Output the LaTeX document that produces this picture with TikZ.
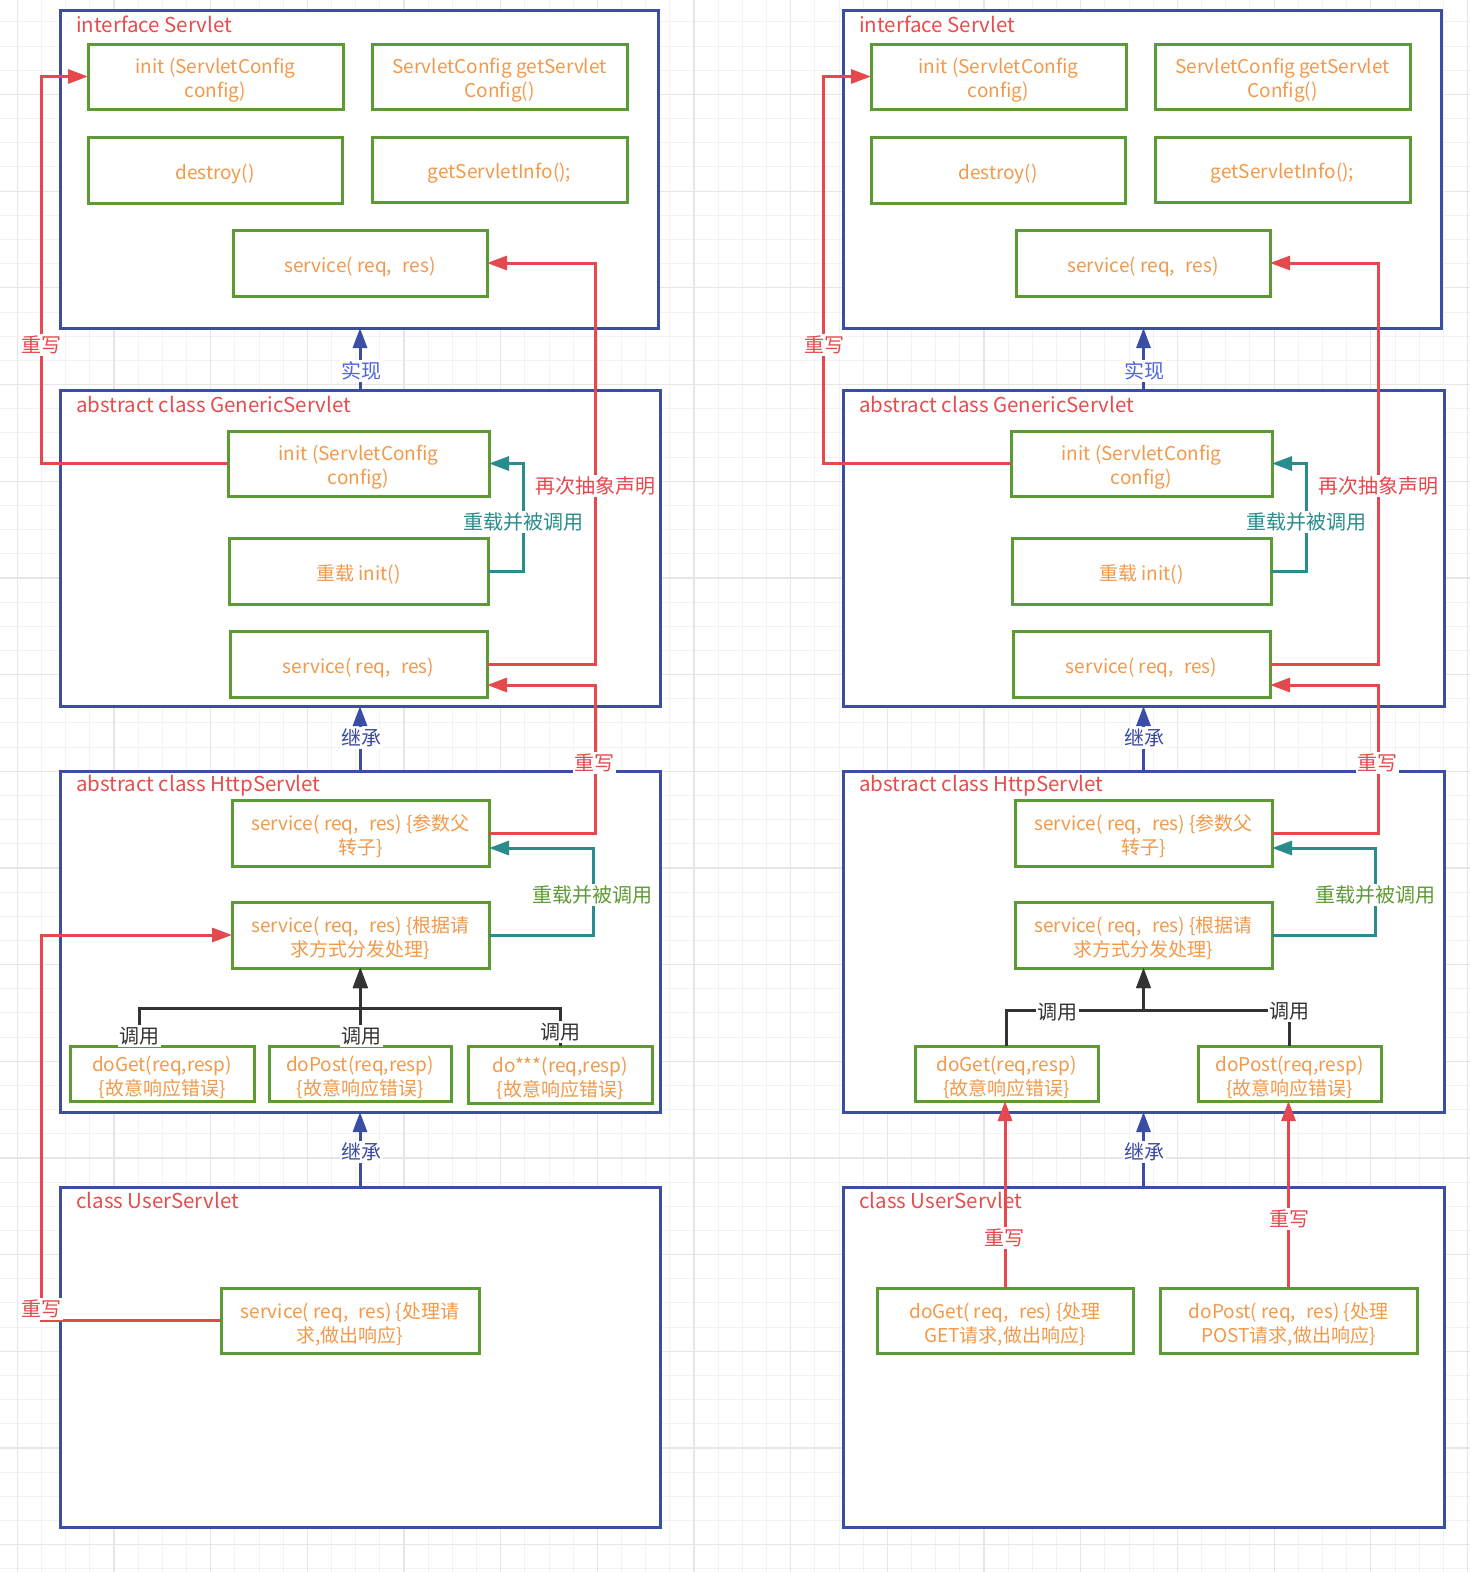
\documentclass[tikz,border=0pt]{standalone}
\usepackage{fontspec}
\setmainfont{Noto Sans CJK SC}
\usetikzlibrary{arrows.meta}
\definecolor{cblue}{HTML}{3A4EA6}
\definecolor{mgreen}{HTML}{5C9A33}
\definecolor{morange}{HTML}{F2994A}
\definecolor{tred}{HTML}{E64D4D}
\definecolor{lred}{HTML}{E5484D}
\definecolor{lteal}{HTML}{2A8C8C}
\definecolor{lgreen}{HTML}{5E9A35}
\definecolor{lblue}{HTML}{3A4AA0}
\definecolor{lblue2}{HTML}{4E62E6}
\definecolor{lblack}{HTML}{333333}
\definecolor{gminorc}{HTML}{F2F2F2}
\definecolor{gmajorc}{HTML}{E6E6E6}
\tikzset{
  cont/.style={draw=cblue, line width=3pt, fill=white, anchor=north west, inner sep=0pt, outer sep=0pt},
  mbox/.style={draw=mgreen, line width=3pt, fill=white, anchor=north west, inner sep=0pt, outer sep=0pt},
  mtext/.style={align=center, text=morange, font=\fontsize{19}{24}\selectfont, inner sep=0pt},
  ttl/.style={anchor=west, text=tred, font=\fontsize{20.5}{24}\selectfont, inner sep=0pt, yshift=-1.5pt},
  lbl/.style={fill=white, inner sep=1.5pt, font=\fontsize{20}{24}\selectfont, yshift=-2pt},
  tip/.style={-{Triangle[length=20pt,width=14pt]}},
  redln/.style={draw=lred, line width=3pt, tip},
  tealln/.style={draw=lteal, line width=3pt, tip},
  blueln/.style={draw=cblue, line width=3pt, tip},
  blkln/.style={draw=lblack, line width=3pt, tip},
  gminor/.style={draw=gminorc, line width=1pt},
  gmajor/.style={draw=gmajorc, line width=1.3pt},
}
\newcommand\rgap{\hspace{0.55em}}
\newcommand\mybox[6]{\node[mbox, minimum width=#4pt, minimum height=#5pt] (#1) at (#2,#3) {};
  \node[mtext] (#1t) at ([yshift=-3.5pt]#1.center) {#6};}
\newcommand\mycont[5]{\node[cont, minimum width=#4pt, minimum height=#5pt] (#1) at (#2,#3) {};}
\begin{document}
\begin{tikzpicture}[x=1pt, y=-1pt]
\useasboundingbox (0,0) rectangle (1470,1572);
\fill[white] (0,0) rectangle (1470,1572);
% grid
\foreach \i in {0,...,60} \draw[gminor] ({17.3+24.17*\i},0) -- ({17.3+24.17*\i},1572);
\foreach \i in {1,...,65} \draw[gminor] (0,{-2.2+24.17*\i}) -- (1470,{-2.2+24.17*\i});
\foreach \i in {0,...,15} \draw[gmajor] ({17.3+96.68*\i},0) -- ({17.3+96.68*\i},1572);
\foreach \i in {1,...,16} \draw[gmajor] (0,{-2.2+96.68*\i}) -- (1470,{-2.2+96.68*\i});

% ================= LEFT COLUMN =================
\mycont{A}{60}{10}{598}{318}
\mycont{B}{60}{390}{600}{316}
\mycont{C}{60}{771}{600}{341}
\mycont{D}{60}{1187}{600}{340}
\node[ttl] (At) at (76,23) {interface Servlet};
\node[ttl] (Bt) at (76,403) {abstract class GenericServlet};
\node[ttl] (Ct) at (76,784) {abstract class HttpServlet};
\node[ttl] (Dt) at (76,1199) {class UserServlet};

\mybox{ai}{88}{44}{255}{65}{init (ServletConfig\\config)}
\mybox{asc}{372}{44}{255}{65}{ServletConfig getServlet\\Config()}
\mybox{ad}{88}{137}{254}{66}{destroy()}
\mybox{agi}{372}{137}{255}{65}{getServletInfo();}
\mybox{as}{233}{230}{254}{66}{service( req,\rgap res)}

\mybox{bi}{228}{431}{261}{65}{init (ServletConfig\\config)}
\mybox{bo}{229}{538}{259}{66}{重载 init()}
\mybox{bs}{230}{631}{257}{66}{service( req,\rgap res)}

\mybox{cs1}{232}{800}{257}{66}{service( req,\rgap res) \{参数父\\转子\}}
\mybox{cs2}{232}{902}{257}{66}{service( req,\rgap res) \{根据请\\求方式分发处理\}}
\mybox{cg}{70}{1046}{184}{55}{doGet(req,resp)\\\{故意响应错误\}}
\mybox{cp}{269}{1046}{182}{55}{doPost(req,resp)\\\{故意响应错误\}}
\mybox{cx}{468}{1046}{184}{57}{do***(req,resp)\\\{故意响应错误\}}

\mybox{ds}{221}{1288}{258}{65}{service( req,\rgap res) \{处理请\\求,做出响应\}}

\coordinate (rl) at (41,0);
\coordinate (rr) at (595,0);
\coordinate (tr) at (523,0);
\coordinate (tr2) at (593,0);
\coordinate (cj) at (360,1008);

\draw[blueln] (B.north) -- (B.north |- A.south);
\draw[blueln] (C.north) -- (C.north |- B.south);
\draw[blueln] (D.north) -- (D.north |- C.south);
\draw[redln] (bi.west) -- (bi.west -| rl) -- (ai.west -| rl) -- (ai.west);
\draw[redln] (bs.east) -- (bs.east -| rr) -- (as.east -| rr) -- (as.east);
\draw[tealln] (bo.east) -- (bo.east -| tr) -- (bi.east -| tr) -- (bi.east);
\draw[redln] (cs1.east) -- (cs1.east -| rr) -- ([yshift=-21pt]bs.east -| rr) -- ([yshift=-21pt]bs.east);
\draw[tealln] (cs2.east) -- (cs2.east -| tr2) -- ([yshift=-15pt]cs1.east -| tr2) -- ([yshift=-15pt]cs1.east);
\draw[redln] (ds.west) -- (ds.west -| rl) -- (cs2.west -| rl) -- (cs2.west);
\draw[blkln] ([xshift=-23pt]cg.north) |- (cs2.south |- cj) -- (cs2.south);
\draw[blkln] (cp.north) -- (cp.north |- cs2.south);
\draw[blkln] (cx.north) |- (cs2.south |- cj) -- (cs2.south);

\node[lbl, text=lblue2] (l1) at (361,369) {实现};
\node[lbl, text=lblue] (l2) at (361,736) {继承};
\node[lbl, text=lblue] (l3) at (361,1150) {继承};
\node[lbl, text=lred] (l4) at (41,343) {重写};
\node[lbl, text=lred] (l5) at (595,484) {再次抽象声明};
\node[lbl, text=lteal] (l6) at (523,520) {重载并被调用};
\node[lbl, text=lred] (l7) at (594,761) {重写};
\node[lbl, text=lgreen] (l8) at (592,893) {重载并被调用};
\node[lbl, text=lred] (l9) at (41,1307) {重写};
\node[lbl, text=lblack] (l10) at (139,1034) {调用};
\node[lbl, text=lblack] (l11) at (361,1034) {调用};
\node[lbl, text=lblack] (l12) at (560,1030) {调用};

% ================= RIGHT COLUMN =================
\mycont{A2}{843}{10}{598}{318}
\mycont{B2}{843}{390}{601}{316}
\mycont{C2}{843}{771}{601}{341}
\mycont{D2}{843}{1187}{601}{340}
\node[ttl] (At2) at (859,23) {interface Servlet};
\node[ttl] (Bt2) at (859,403) {abstract class GenericServlet};
\node[ttl] (Ct2) at (859,784) {abstract class HttpServlet};
\node[ttl] (Dt2) at (859,1199) {class UserServlet};

\mybox{ai2}{871}{44}{255}{65}{init (ServletConfig\\config)}
\mybox{asc2}{1155}{44}{255}{65}{ServletConfig getServlet\\Config()}
\mybox{ad2}{871}{137}{254}{66}{destroy()}
\mybox{agi2}{1155}{137}{255}{65}{getServletInfo();}
\mybox{as2}{1016}{230}{254}{66}{service( req,\rgap res)}

\mybox{bi2}{1011}{431}{261}{65}{init (ServletConfig\\config)}
\mybox{bo2}{1012}{538}{259}{66}{重载 init()}
\mybox{bs2}{1013}{631}{257}{66}{service( req,\rgap res)}

\mybox{cs12}{1015}{800}{257}{66}{service( req,\rgap res) \{参数父\\转子\}}
\mybox{cs22}{1015}{902}{257}{66}{service( req,\rgap res) \{根据请\\求方式分发处理\}}
\mybox{cg2}{915}{1046}{183}{55}{doGet(req,resp)\\\{故意响应错误\}}
\mybox{cp2}{1198}{1046}{183}{55}{doPost(req,resp)\\\{故意响应错误\}}

\mybox{dg2}{877}{1288}{256}{65}{doGet( req,\rgap res) \{处理\\GET请求,做出响应\}}
\mybox{dp2}{1160}{1288}{257}{65}{doPost( req,\rgap res) \{处理\\POST请求,做出响应\}}

\coordinate (rl2) at (823,0);
\coordinate (rr2) at (1378,0);
\coordinate (tr3) at (1306,0);
\coordinate (tr4) at (1375,0);
\coordinate (cj2) at (1143,1010);

\draw[blueln] (B2.north) -- (B2.north |- A2.south);
\draw[blueln] (C2.north) -- (C2.north |- B2.south);
\draw[blueln] (D2.north) -- (D2.north |- C2.south);
\draw[redln] (bi2.west) -- (bi2.west -| rl2) -- (ai2.west -| rl2) -- (ai2.west);
\draw[redln] (bs2.east) -- (bs2.east -| rr2) -- (as2.east -| rr2) -- (as2.east);
\draw[tealln] (bo2.east) -- (bo2.east -| tr3) -- (bi2.east -| tr3) -- (bi2.east);
\draw[redln] (cs12.east) -- (cs12.east -| rr2) -- ([yshift=-21pt]bs2.east -| rr2) -- ([yshift=-21pt]bs2.east);
\draw[tealln] (cs22.east) -- (cs22.east -| tr4) -- ([yshift=-15pt]cs12.east -| tr4) -- ([yshift=-15pt]cs12.east);
\draw[blkln] (cg2.north) |- (cs22.south |- cj2) -- (cs22.south);
\draw[blkln] (cp2.north) |- (cs22.south |- cj2) -- (cs22.south);
\draw[redln] (dg2.north) -- (dg2.north |- cg2.south);
\draw[redln] (dp2.north) -- (dp2.north |- cp2.south);

\node[lbl, text=lblue2] (r1) at (1144,369) {实现};
\node[lbl, text=lblue] (r2) at (1144,736) {继承};
\node[lbl, text=lblue] (r3) at (1144,1150) {继承};
\node[lbl, text=lred] (r4) at (824,343) {重写};
\node[lbl, text=lred] (r5) at (1378,484) {再次抽象声明};
\node[lbl, text=lteal] (r6) at (1306,520) {重载并被调用};
\node[lbl, text=lred] (r7) at (1377,761) {重写};
\node[lbl, text=lgreen] (r8) at (1375,893) {重载并被调用};
\node[lbl, text=lblack] (r10) at (1057,1010) {调用};
\node[lbl, text=lblack] (r11) at (1289,1009) {调用};
\node[lbl, text=lred] (r12) at (1004,1236) {重写};
\node[lbl, text=lred] (r13) at (1289,1217) {重写};
\end{tikzpicture}
\end{document}
